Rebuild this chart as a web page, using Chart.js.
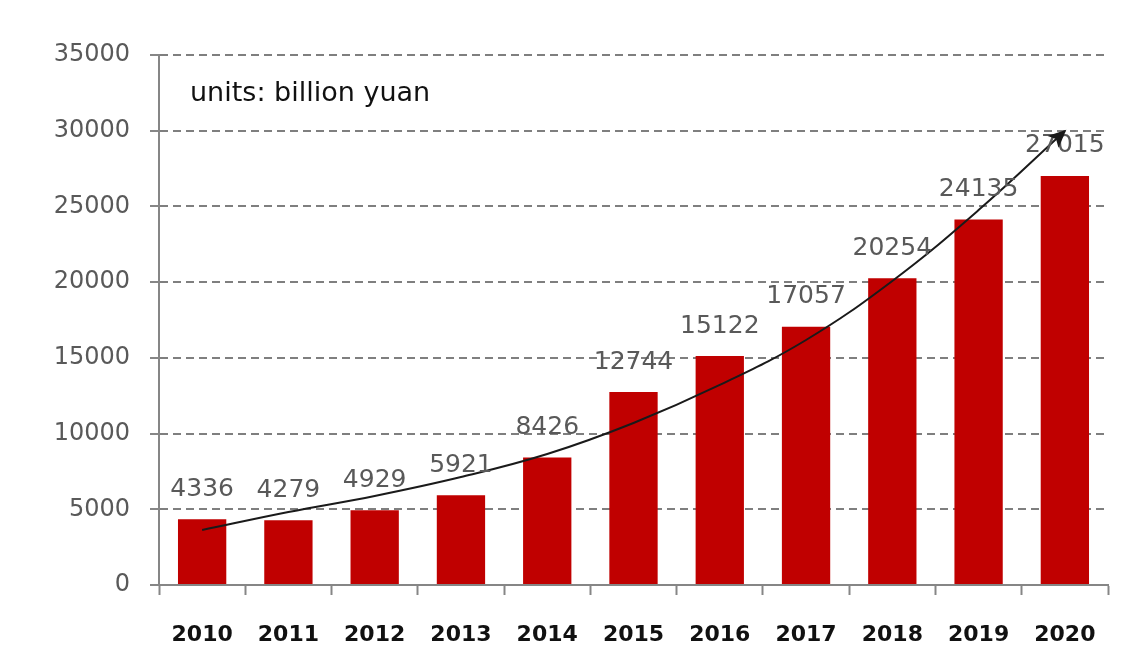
<!DOCTYPE html>
<html>
<head>
<meta charset="utf-8">
<script src="https://cdn.jsdelivr.net/npm/chart.js@4"></script>
<style>
  html, body { margin: 0; padding: 0; background: #fff; }
  #wrap { width: 1132px; height: 666px; }
</style>
</head>
<body>
<div id="wrap"><canvas id="revenueChart" width="1132" height="666"></canvas></div>
<script>
const years = ["2010", "2011", "2012", "2013", "2014", "2015", "2016", "2017", "2018", "2019", "2020"];
const revenue = [4336, 4279, 4929, 5921, 8426, 12744, 15122, 17057, 20254, 24135, 27015];
// hand drawn growth arrow at each year
const trendLine = [3630, 4820, 5880, 7130, 8650, 10700, 13210, 16180, 20080, 24760, 29980];
const unitsText = "units: billion yuan";

const fontFamily = "'DejaVu Sans', sans-serif";

const valueLabels = {
    id: "valueLabels",
    afterDatasetsDraw(chart) {
        const ctx = chart.ctx;
        const meta = chart.getDatasetMeta(0);
        ctx.save();
        ctx.font = "25px " + fontFamily;
        ctx.fillStyle = "#595959";
        ctx.textAlign = "center";
        ctx.textBaseline = "middle";
        meta.data.forEach((bar, i) => {
            ctx.fillText(String(revenue[i]), bar.x, bar.y - 30);
        });
        ctx.restore();
    }
};

const arrowAndUnits = {
    id: "arrowAndUnits",
    afterDraw(chart) {
        const ctx = chart.ctx;
        const area = chart.chartArea;

        // arrow head at the end of the trend line
        const pts = chart.getDatasetMeta(1).data;
        const last = pts[pts.length - 1];
        const fromX = last.cp1x !== undefined ? last.cp1x : pts[pts.length - 2].x;
        const fromY = last.cp1y !== undefined ? last.cp1y : pts[pts.length - 2].y;
        const angle = Math.atan2(last.y - fromY, last.x - fromX);
        const size = 16;
        ctx.save();
        ctx.translate(last.x, last.y);
        ctx.rotate(angle);
        ctx.fillStyle = "#1a1a1a";
        ctx.beginPath();
        ctx.moveTo(2, 0);
        ctx.lineTo(-size, -size * 0.5);
        ctx.lineTo(-size * 0.75, 0);
        ctx.lineTo(-size, size * 0.5);
        ctx.closePath();
        ctx.fill();
        ctx.restore();

        ctx.save();
        ctx.font = "27px " + fontFamily;
        ctx.fillStyle = "#111";
        ctx.textAlign = "left";
        ctx.textBaseline = "middle";
        ctx.fillText(unitsText, area.left + 31, area.top + 39);
        ctx.restore();
    }
};

const ctx = document.getElementById("revenueChart").getContext("2d");

new Chart(ctx, {
    data: {
        labels: years,
        datasets: [
            {
                type: "bar",
                label: "Revenue",
                data: revenue,
                backgroundColor: "#c00000",
                borderWidth: 0,
                categoryPercentage: 1,
                barPercentage: 0.56,
                order: 2
            },
            {
                type: "line",
                label: "Trend",
                data: trendLine,
                borderColor: "#1a1a1a",
                borderWidth: 2,
                tension: 0.4,
                pointRadius: 0,
                fill: false,
                order: 1
            }
        ]
    },
    options: {
        responsive: false,
        animation: false,
        layout: { padding: { top: 55, right: 24, bottom: 0, left: 0 } },
        plugins: {
            legend: { display: false },
            tooltip: { enabled: false }
        },
        scales: {
            x: {
                offset: true,
                grid: {
                    offset: true,
                    drawOnChartArea: false,
                    drawTicks: true,
                    tickLength: 10,
                    tickColor: "#868686",
                    tickWidth: 2
                },
                border: { color: "#868686", width: 2 },
                ticks: {
                    color: "#111",
                    padding: 27,
                    font: { family: fontFamily, size: 22, weight: "bold" }
                },
                afterFit(scale) { scale.height = 81; }
            },
            y: {
                min: 0,
                max: 35000,
                ticks: {
                    stepSize: 5000,
                    color: "#595959",
                    padding: 20,
                    font: { family: fontFamily, size: 24 },
                    callback: value => String(value)
                },
                grid: {
                    color: "#7f7f7f",
                    lineWidth: 2,
                    tickLength: 9,
                    tickColor: "#868686",
                    tickWidth: 2
                },
                border: { color: "#868686", width: 2, dash: [8, 5] },
                afterFit(scale) { scale.width = 159; }
            }
        }
    },
    plugins: [valueLabels, arrowAndUnits]
});
</script>
</body>
</html>
